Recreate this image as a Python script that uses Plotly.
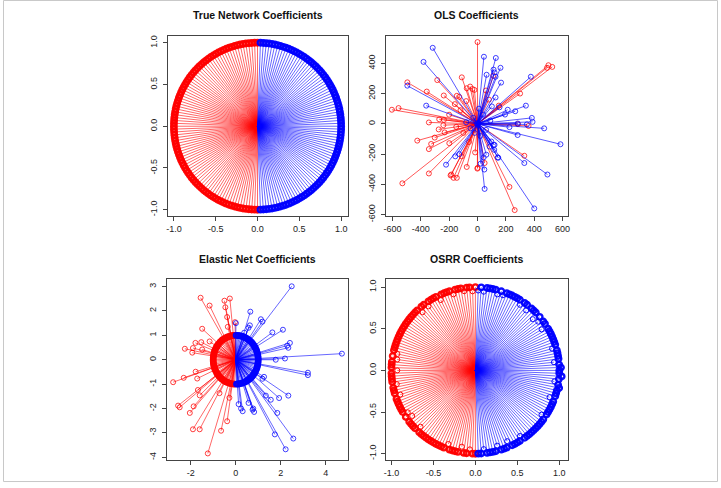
import math
import plotly.graph_objects as go

# ---------------- data ----------------
# True network: node angles (degrees) on the unit circle
true_red_angles = [90,92,94,96,98,100,102,104,106,108,110,112,114,116,118,120,122,124,126,128,
                   130,132,134,136,138,140,142,144,146,148,150,152,154,156,158,160,162,164,166,168,
                   170,172,174,176,178,180,182,184,186,188,190,192,194,196,198,200,202,204,206,208,
                   210,212,214,216,218,220,222,224,226,228,230,232,234,236,238,240,242,244,246,248,
                   250,252,254,256,258,260,262,264,266,268,270]
true_blue_angles = [-88,-86,-84,-82,-80,-78,-76,-74,-72,-70,-68,-66,-64,-62,-60,-58,-56,-54,-52,-50,
                    -48,-46,-44,-42,-40,-38,-36,-34,-32,-30,-28,-26,-24,-22,-20,-18,-16,-14,-12,-10,
                    -8,-6,-4,-2,0,2,4,6,8,10,12,14,16,18,20,22,24,26,28,30,
                    32,34,36,38,40,42,44,46,48,50,52,54,56,58,60,62,64,66,68,70,
                    72,74,76,78,80,82,84,86,88]

# OSRR: radius of each node (same angles as the true network)
osrr_red_r = [1.00,0.95,1.00,1.00,0.96,1.00,1.00,1.00,0.95,1.00,
              1.00,1.00,1.00,0.94,1.00,1.00,1.00,1.00,0.95,1.00,
              1.00,0.94,1.00,1.00,1.00,1.00,1.00,1.00,1.00,1.00,
              1.00,1.00,1.00,1.00,1.00,1.00,1.00,1.00,1.00,0.95,
              1.00,0.94,1.00,1.00,1.00,0.93,1.00,1.00,1.00,1.00,
              0.95,1.00,1.00,1.00,0.94,1.00,1.00,1.00,1.00,1.00,
              1.00,0.95,1.00,0.93,1.00,1.00,1.00,1.00,0.94,1.00,
              1.00,1.00,1.00,1.00,1.00,1.00,1.00,1.00,1.00,1.00,
              0.94,1.00,1.00,1.00,1.00,0.93,1.00,1.00,0.95,1.00,1.00]
osrr_blue_r = [1.00,1.00,0.95,1.00,1.00,1.00,1.00,0.94,1.00,1.00,
               1.00,0.93,1.00,1.00,1.00,1.00,0.95,1.00,1.00,1.00,
               1.00,1.00,1.00,1.00,1.00,1.00,1.00,0.95,1.00,1.00,
               1.00,1.00,1.00,1.00,0.94,1.00,1.00,1.00,1.02,1.00,
               0.95,1.00,1.03,1.00,1.00,1.02,1.00,0.94,1.00,1.00,
               1.00,1.00,0.95,1.00,1.00,1.00,1.00,1.00,1.00,1.00,
               0.93,1.00,1.00,0.95,1.00,0.92,1.00,1.00,1.00,0.94,
               1.00,1.00,0.95,1.00,1.00,1.00,1.00,1.00,1.00,0.96,
               1.00,0.95,1.00,1.00,1.00,1.00,0.95,1.00,0.96]

# OLS coefficients
ols_red_x = [0, 111, -111, -495, -358, -284, -238, -604, -557, -146, -129, -76, -52, -36, -22,
             500, 527, 490, 300, -343, -270, -237, -241, -425, -343, -327, -302, -274, -232,
             -199, -111, -76, -185, -169, -146, -343, -530, -17, 1, 330, 262, 225, 50, -1,
             -160, -200, -120, -80, -60, -100, -150, 80, 60, 150, 360, 285, -190]
ols_red_y = [540, 317, 307, 274, 213, 289, 187, 93, 104, 185, 178, 235, 246, 230, 224,
             387, 376, 370, 200, 9, 30, 26, -9, -111, -167, -133, -91, -37, -57,
             -128, -215, -285, -335, -357, -357, -328, -393, -189, -291, -211, -570, -417, -259, -296,
             130, 60, 90, 150, -120, -60, -20, 160, 220, 120, -14, -2, -341]
ols_blue_x = [-316, -381, 45, 129, 113, 120, 127, 162, 166, 64, 376, 341, 266, 213, 194, 155, 127, 101,
              383, 388, 348, 283, 225, 470, 585, 283, 330, 493, 400, 50, 143, 97, 120, 85,
              -157, -495, -362, -222, -129, 22, 48, 43, 62, 113, 118, 146,
              40, -30, 60, -50, 20, 90, -80, 10, -20, 5, -5, 3]
ols_blue_y = [502, 409, 443, 435, 358, 339, 311, 370, 272, 324, 311, 120, 83, 93, 61, 109, 174, 115,
              39, 13, -4, 2, -22, -30, -135, -74, -259, -335, -559, -430, -222, -117, -139, -150,
              -215, 252, 120, -270, -200, -263, -302, -222, -204, -139, -172, -224,
              60, 40, -40, -30, -80, 20, 10, 100, -60, 5, 3, -6]

# Elastic net: nodes shrunk onto the unit ring (angles) plus large coefficients
en_ring_red_angles = [92,96,99,104,108,111,115,119,124,127,131,135,140,143,147,151,156,159,163,167,
                      171,175,179,183,187,191,195,199,203,207,212,215,219,223,228,231,235,239,244,247,
                      251,255,259,263,267]
en_ring_blue_angles = [-88,-84,-80,-76,-71,-67,-63,-59,-55,-51,-47,-43,-39,-35,-31,-27,-23,-19,-15,-11,
                       -7,-3,1,5,9,13,17,21,25,29,33,37,41,45,49,53,57,61,65,69,73,77,81,85,89]
en_red_x = [-1.56, -1.16, -0.50, -0.26, -0.46, -0.38, -1.49, -1.79, -1.53, -1.49, -1.93, -1.90, -2.26,
            -1.16, -0.03, -0.35, -2.31, -1.78, -1.71, -2.78, -2.56, -2.49, -2.04, -1.87, -1.60, -1.68,
            -1.90, -1.60, -0.72, -0.38, -0.65, -1.24, -0.28]
en_red_y = [2.54, 2.22, 2.42, 2.51, 2.15, 1.75, 1.27, 0.69, 0.72, 0.42, 0.29, 0.48, 0.45,
            0.75, 1.54, 1.35, -0.74, -0.49, -0.77, -0.92, -1.88, -1.95, -2.18, -1.91, -1.46, -1.24,
            -2.85, -2.85, -1.37, -2.52, -2.91, -3.84, -1.56]
en_blue_x = [2.49, 0.65, 0.01, 1.12, 1.19, 1.63, 2.10, 2.41, 2.34, 2.29, 4.72, 2.19, 1.78, 3.21, 3.21,
             1.26, 2.34, 1.93, 1.56, 1.34, 1.85, 0.82, 0.75, 1.74, 2.56, 2.22, 0.24, 0.31, 0.78,
             0.57, 0.13, 0.38, 0.63, 0.57, 1.19]
en_blue_y = [3.01, 1.97, 1.50, 1.66, 1.56, 1.12, 1.23, 0.69, 0.49, 0.58, 0.25, 0.05, 0.00, -0.53, -0.63,
             -0.70, -1.47, -1.57, -1.64, -1.47, -2.18, -2.14, -2.05, -3.06, -3.23, -3.67, -2.00, -2.11, -2.00,
             -1.77, -1.82, 1.11, 1.41, 1.31, -0.78]

titles = ["True Network Coefficients", "OLS Coefficients",
          "Elastic Net Coefficients", "OSRR Coefficients"]
unit_ticks = [-1.0, -0.5, 0.0, 0.5, 1.0]
unit_labels = ["-1.0", "-0.5", "0.0", "0.5", "1.0"]
ols_xticks = [-600, -400, -200, 0, 200, 400, 600]
ols_yticks = [-600, -400, -200, 0, 200, 400]
en_xticks = [-2, 0, 2, 4]
en_yticks = [-4, -3, -2, -1, 0, 1, 2, 3]

# ---------------- style ----------------
RED_L = "rgba(255,0,0,0.75)"
BLUE_L = "rgba(0,0,255,0.75)"
RED_M = "rgba(255,0,0,0.95)"
BLUE_M = "rgba(0,0,255,0.95)"
FONT = "Liberation Sans, Arial, Helvetica, sans-serif"

W, H = 721, 488
# panel boxes in pixels (left, right, top, bottom)
boxes = [(166, 348, 36, 219), (386, 569.3, 36, 219),
         (165, 348.3, 282.7, 466), (386.7, 569.3, 282.7, 466)]
ranges = [((-1.075, 1.083), (-1.079, 1.086)),
          ((-647, 635), (-611, 583)),
          ((-3.07, 5.01), (-4.12, 3.30)),
          ((-1.059, 1.098), (-1.079, 1.095))]

fig = go.Figure()


def polar(angles, radii=None):
    xs, ys = [], []
    for i, a in enumerate(angles):
        r = 1.0 if radii is None else radii[i]
        xs.append(r * math.cos(math.radians(a)))
        ys.append(r * math.sin(math.radians(a)))
    return xs, ys


def axname(k):
    return "" if k == 1 else str(k)


def add_lines(xs, ys, lcol, k, lw=0.8):
    sx, sy = [], []
    for x, y in zip(xs, ys):
        sx += [0, x, None]
        sy += [0, y, None]
    ax = axname(k)
    fig.add_trace(go.Scatter(x=sx, y=sy, mode="lines", line=dict(color=lcol, width=lw),
                             xaxis="x" + ax, yaxis="y" + ax, hoverinfo="skip", showlegend=False))


def add_marks(xs, ys, mcol, k, msize=5, mlw=1.0):
    ax = axname(k)
    fig.add_trace(go.Scatter(x=xs, y=ys, mode="markers",
                             marker=dict(symbol="circle-open", size=msize, color=mcol,
                                         line=dict(width=mlw)),
                             xaxis="x" + ax, yaxis="y" + ax, hoverinfo="skip", showlegend=False))


# panel 1: true network
rx, ry = polar(true_red_angles)
bx, by = polar(true_blue_angles)
add_lines(rx, ry, RED_L, 1)
add_lines(bx, by, BLUE_L, 1)
add_marks(rx, ry, RED_M, 1, msize=5.5, mlw=2.4)
add_marks(bx, by, BLUE_M, 1, msize=5.5, mlw=2.4)

# panel 2: OLS
add_lines(ols_red_x, ols_red_y, "rgba(255,0,0,0.65)", 2, lw=1.0)
add_marks(ols_red_x, ols_red_y, "rgba(255,0,0,0.75)", 2)
add_lines(ols_blue_x, ols_blue_y, "rgba(0,0,255,0.65)", 2, lw=1.0)
add_marks(ols_blue_x, ols_blue_y, "rgba(0,0,255,0.75)", 2)

# panel 3: elastic net
erx, ery = polar(en_ring_red_angles)
ebx, eby = polar(en_ring_blue_angles)
add_lines(erx + en_red_x, ery + en_red_y, RED_L, 3)
add_lines(ebx + en_blue_x, eby + en_blue_y, BLUE_L, 3)
add_marks(erx, ery, RED_M, 3, msize=5, mlw=1.8)
add_marks(ebx, eby, BLUE_M, 3, msize=5, mlw=1.8)
add_marks(en_red_x, en_red_y, "rgba(255,0,0,0.75)", 3)
add_marks(en_blue_x, en_blue_y, "rgba(0,0,255,0.75)", 3)

# panel 4: OSRR
orx, ory = polar(true_red_angles, osrr_red_r)
obx, oby = polar(true_blue_angles, osrr_blue_r)
add_lines(orx, ory, RED_L, 4)
add_lines(obx, oby, BLUE_L, 4)
for xs, ys, rr, col in ((orx, ory, osrr_red_r, RED_M), (obx, oby, osrr_blue_r, BLUE_M)):
    on = [i for i, v in enumerate(rr) if v >= 0.99]
    off = [i for i, v in enumerate(rr) if v < 0.99]
    add_marks([xs[i] for i in on], [ys[i] for i in on], col, 4, msize=5.5, mlw=2.4)
    add_marks([xs[i] for i in off], [ys[i] for i in off], col, 4, msize=5, mlw=1.0)

tickspec = [((unit_ticks, unit_labels), (unit_ticks, unit_labels)),
            ((ols_xticks, [str(v) for v in ols_xticks]), (ols_yticks, [str(v) for v in ols_yticks])),
            ((en_xticks, [str(v) for v in en_xticks]), (en_yticks, [str(v) for v in en_yticks])),
            ((unit_ticks, unit_labels), (unit_ticks, unit_labels))]

axis_common = dict(showline=True, mirror=True, linecolor="#444", linewidth=1,
                   ticks="outside", ticklen=4, tickcolor="#444", tickwidth=1,
                   showgrid=False, zeroline=False,
                   tickfont=dict(family=FONT, size=9, color="#222"))

layout = dict(width=W, height=H, margin=dict(l=0, r=0, t=0, b=0),
              paper_bgcolor="white", plot_bgcolor="white", showlegend=False)
annotations = []
for k in range(4):
    l, r, t, b = boxes[k]
    (xr, yr) = ranges[k]
    (xt, yt) = tickspec[k]
    ax = "" if k == 0 else str(k + 1)
    layout["xaxis" + ax] = dict(domain=[l / W, r / W], range=list(xr),
                                tickvals=xt[0], ticktext=xt[1],
                                anchor="y" + ax, **axis_common)
    layout["yaxis" + ax] = dict(domain=[1 - b / H, 1 - t / H], range=list(yr),
                                tickvals=yt[0], ticktext=yt[1], tickangle=-90,
                                ticklabelstandoff=2,
                                anchor="x" + ax, **axis_common)
    ty = 15 if k < 2 else 262.5
    annotations.append(dict(text="<b>" + titles[k] + "</b>", x=(l + r) / 2 / W, y=1 - ty / H,
                            xref="paper", yref="paper", showarrow=False,
                            xanchor="center", yanchor="middle",
                            font=dict(family=FONT, size=10.5, color="#111")))
layout["annotations"] = annotations
layout["shapes"] = [dict(type="rect", xref="paper", yref="paper", x0=0.0007, x1=0.9993,
                         y0=0.001, y1=0.999, line=dict(color="#c8c8c8", width=1))]
fig.update_layout(**layout)
fig.write_html("out.html")
